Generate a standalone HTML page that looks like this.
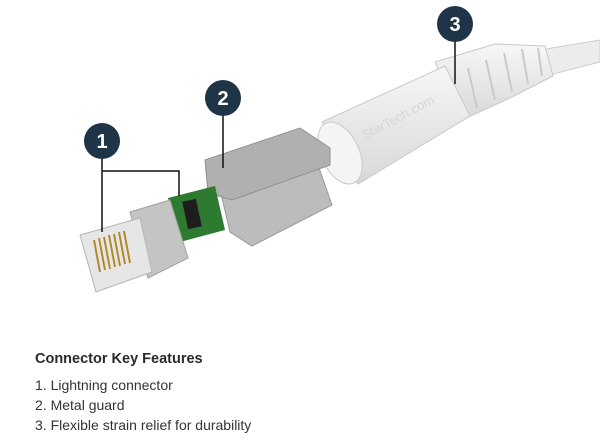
<!DOCTYPE html>
<html><head><meta charset="utf-8"><style>
html,body{margin:0;padding:0;background:#fff;width:600px;height:441px;overflow:hidden}
.t{position:absolute;left:35px;font-family:"Liberation Sans",sans-serif;color:#333;font-size:14px}
</style></head><body>
<svg width="600" height="441" style="position:absolute;left:0;top:0">
<defs>
<linearGradient id="wg" x1="0" y1="0" x2="0" y2="1"><stop offset="0" stop-color="#f7f7f7"/><stop offset="1" stop-color="#d8d8d8"/></linearGradient>
</defs>
<!-- cable -->
<polygon points="540,50 600,40 600,62 545,76" fill="#ececec" stroke="#ccc"/>
<!-- strain relief -->
<polygon points="435,62 495,44 545,46 553,76 510,98 462,120" fill="url(#wg)" stroke="#c8c8c8"/>
<g stroke="#c9c9c9" stroke-width="2" fill="none">
<path d="M468,68 L477,108"/><path d="M486,60 L495,100"/><path d="M504,53 L512,92"/><path d="M522,49 L528,84"/><path d="M538,48 L542,76"/>
</g>
<!-- overmold -->
<polygon points="322,122 445,66 470,116 358,184" fill="url(#wg)" stroke="#c8c8c8"/>
<ellipse cx="340" cy="153" rx="19" ry="33" transform="rotate(-25 340 153)" fill="#f4f4f4" stroke="#c8c8c8"/>
<text x="355" y="130" transform="rotate(-28 380 115)" font-family="Liberation Sans,sans-serif" font-size="13" fill="#d6d6d6">StarTech.com</text>
<!-- metal guard -->
<polygon points="222,198 318,165 332,205 252,246 230,232" fill="#bcbcbc" stroke="#9a9a9a"/>
<polygon points="205,160 300,128 330,148 330,165 232,200 208,193" fill="#b0b0b0" stroke="#909090"/>
<!-- pcb -->
<polygon points="168,198 215,186 225,230 180,242" fill="#2e7a30"/>
<rect x="185" y="200" width="14" height="28" fill="#1d1d1d" transform="rotate(-12 192 214)"/>
<!-- housing -->
<polygon points="130,212 170,200 188,258 148,278" fill="#c4c4c4" stroke="#a0a0a0"/>
<!-- tip -->
<polygon points="80,235 140,218 152,272 96,292" fill="#e6e6e6" stroke="#b5b5b5"/>
<g stroke="#b08a2a" stroke-width="2">
<line x1="94" y1="240" x2="100" y2="272"/><line x1="99" y1="238" x2="105" y2="270"/><line x1="104" y1="237" x2="110" y2="269"/><line x1="109" y1="235" x2="115" y2="267"/><line x1="114" y1="234" x2="120" y2="266"/><line x1="119" y1="232" x2="125" y2="264"/><line x1="124" y1="231" x2="130" y2="263"/>
</g>
<!-- leader lines -->
<g stroke="#111" stroke-width="1.5" fill="none">
<path d="M102,158 V232"/><path d="M102,171 H179 V196"/>
<path d="M223,114 V168"/><path d="M455,40 V84"/>
</g>
<g fill="#1f3447" font-family="Liberation Sans,sans-serif" font-size="20" font-weight="bold" text-anchor="middle">
<circle cx="102" cy="141" r="18"/><circle cx="223" cy="98" r="18"/><circle cx="455" cy="24" r="18"/>
<text x="102" y="148" fill="#fff">1</text><text x="223" y="105" fill="#fff">2</text><text x="455" y="31" fill="#fff">3</text>
</g>
</svg>
<div class="t" style="top:351px;font-size:14.5px;font-weight:bold;color:#2a2a2a">Connector Key Features</div>
<div class="t" style="top:377px">1. Lightning connector</div>
<div class="t" style="top:397px">2. Metal guard</div>
<div class="t" style="top:417px">3. Flexible strain relief for durability</div>
</body></html>
